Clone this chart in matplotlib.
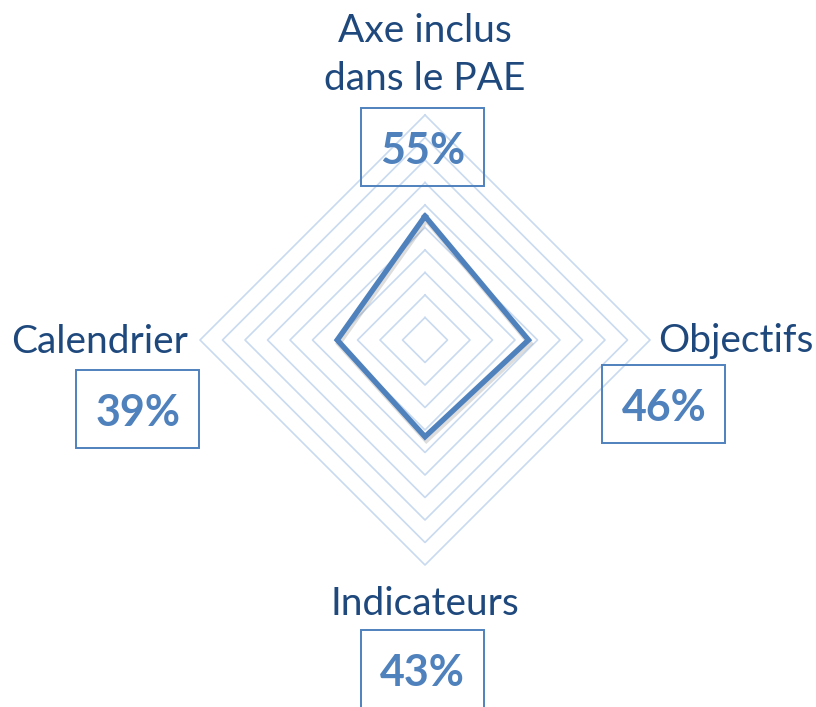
import numpy as np
import matplotlib
matplotlib.use("Agg")
import matplotlib.pyplot as plt
from matplotlib.patches import Rectangle
import matplotlib.patheffects as pe

categories = ["Axe inclus\ndans le PAE", "Objectifs", "Indicateurs", "Calendrier"]
values = [0.55, 0.46, 0.43, 0.39]
value_labels = ["55%", "46%", "43%", "39%"]
grid_levels = [0.1, 0.2, 0.3, 0.4, 0.5, 0.6, 0.7, 0.8, 0.9, 1.0]

LINE = "#4F81BD"
TEXT = "#1F497D"
GRID = "#C9DAF0"
FONT = "Lato"

W, H = 816, 707
fig = plt.figure(figsize=(W / 100, H / 100), dpi=100)
ax = fig.add_axes([0, 0, 1, 1])
cx, cy, R = 425, 340, 225  # pixel centre and radius of the 100% ring
ax.set_xlim(-cx / R, (W - cx) / R)
ax.set_ylim(-(H - cy) / R, cy / R)
ax.axis("off")

n = len(categories)
angles = np.arange(n) * 2 * np.pi / n  # clockwise from top


def xy(r, a):
    return r * np.sin(a), r * np.cos(a)


# grid diamonds
for lv in grid_levels:
    px, py = xy(np.array([lv] * (n + 1)), np.append(angles, angles[0]))
    ax.plot(px, py, color=GRID, lw=1.2, zorder=1)

# data polygon
vals = np.array(values + values[:1])
px, py = xy(vals, np.append(angles, angles[0]))
ax.plot(px, py, color=LINE, lw=3.9, solid_joinstyle="miter", zorder=3,
        path_effects=[pe.SimpleLineShadow(offset=(1.0, -2.5), alpha=0.2, shadow_color="#555555"),
                      pe.Normal()])

# category labels (position in pixels -> data)
def d(px_, py_):
    return (px_ - cx) / R, (cy - py_) / R

label_pos = [(425, 90), (736, 352), (425, 615), (100, 353)]
for lab, (lx, ly) in zip(categories, label_pos):
    x, y = d(lx, ly)
    ax.text(x, y, lab, ha="center", va="baseline", fontsize=28, color=TEXT,
            family=FONT, linespacing=1.42, zorder=5)

# value boxes
box_pos = [(423, 147), (664, 404.5), (422.5, 669), (138, 409.5)]
bw, bh = 123 / R, 78 / R
for vl, (bx, by) in zip(value_labels, box_pos):
    x, y = d(bx, by)
    ax.add_patch(Rectangle((x - bw / 2, y - bh / 2), bw, bh, fill=False,
                           edgecolor=LINE, lw=1.4, zorder=4))
    ax.text(x, y, vl, ha="center", va="center_baseline", fontsize=31, color=LINE,
            family=FONT, fontweight="bold", zorder=5)

fig.savefig("out.png", dpi=100)
